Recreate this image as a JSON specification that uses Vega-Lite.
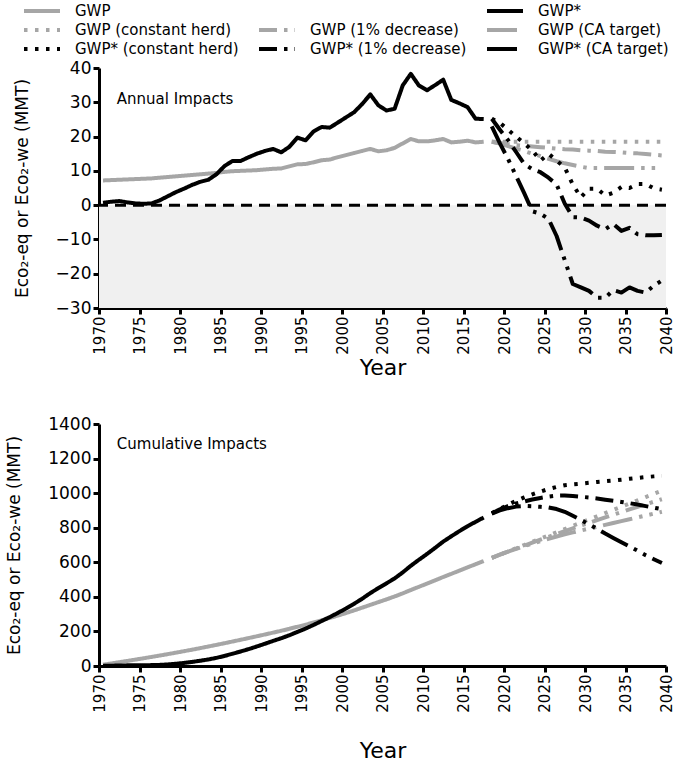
{
  "$schema": "https://vega.github.io/schema/vega-lite/v6.json",
  "padding": {"left": 5, "top": 0, "right": 5, "bottom": 5},
  "config": {
    "font": "DejaVu Sans",
    "view": {"stroke": null},
    "axis": {"domainColor": "black", "domainWidth": 3, "tickColor": "black", "tickWidth": 3, "tickSize": 6, "labelFontSize": 17, "labelColor": "black", "titleFontSize": 17, "titleFontWeight": "normal", "titleColor": "black", "grid": false, "labelFont": "DejaVu Sans", "titleFont": "DejaVu Sans"},
    "axisX": {"labelFontSize": 15, "titleFontSize": 22},
    "legend": {"orient": "none", "legendX": -77, "legendY": -68, "columns": 3, "symbolType": "M-2,0H2", "symbolSize": 324, "symbolOffset": 9, "labelOffset": 22, "symbolStrokeWidth": 4, "labelFontSize": 15, "labelFont": "DejaVu Sans", "labelColor": "black", "rowPadding": 0, "columnPadding": 12, "labelLimit": 400}
  },
  "datasets": {
    "annual_hist": [
      {"year": 1970, "GWP": 7.2, "GWP*": 0.7}, {"year": 1971, "GWP": 7.3, "GWP*": 1.0}, {"year": 1972, "GWP": 7.4, "GWP*": 1.2}, {"year": 1973, "GWP": 7.5, "GWP*": 0.8}, {"year": 1974, "GWP": 7.6, "GWP*": 0.5},
      {"year": 1975, "GWP": 7.7, "GWP*": 0.4}, {"year": 1976, "GWP": 7.8, "GWP*": 0.5}, {"year": 1977, "GWP": 8.0, "GWP*": 1.4}, {"year": 1978, "GWP": 8.2, "GWP*": 2.6}, {"year": 1979, "GWP": 8.4, "GWP*": 3.8},
      {"year": 1980, "GWP": 8.6, "GWP*": 4.8}, {"year": 1981, "GWP": 8.8, "GWP*": 5.9}, {"year": 1982, "GWP": 9.0, "GWP*": 6.8}, {"year": 1983, "GWP": 9.2, "GWP*": 7.4}, {"year": 1984, "GWP": 9.4, "GWP*": 9.0},
      {"year": 1985, "GWP": 9.7, "GWP*": 11.4}, {"year": 1986, "GWP": 9.9, "GWP*": 12.9}, {"year": 1987, "GWP": 10.0, "GWP*": 12.9}, {"year": 1988, "GWP": 10.1, "GWP*": 14.0}, {"year": 1989, "GWP": 10.2, "GWP*": 15.0},
      {"year": 1990, "GWP": 10.4, "GWP*": 15.8}, {"year": 1991, "GWP": 10.6, "GWP*": 16.4}, {"year": 1992, "GWP": 10.7, "GWP*": 15.4}, {"year": 1993, "GWP": 11.3, "GWP*": 17.0}, {"year": 1994, "GWP": 11.9, "GWP*": 19.7},
      {"year": 1995, "GWP": 12.0, "GWP*": 18.9}, {"year": 1996, "GWP": 12.5, "GWP*": 21.5}, {"year": 1997, "GWP": 13.1, "GWP*": 22.8}, {"year": 1998, "GWP": 13.3, "GWP*": 22.6}, {"year": 1999, "GWP": 14.0, "GWP*": 24.1},
      {"year": 2000, "GWP": 14.6, "GWP*": 25.6}, {"year": 2001, "GWP": 15.2, "GWP*": 27.1}, {"year": 2002, "GWP": 15.8, "GWP*": 29.5}, {"year": 2003, "GWP": 16.4, "GWP*": 32.3}, {"year": 2004, "GWP": 15.7, "GWP*": 29.1},
      {"year": 2005, "GWP": 16.0, "GWP*": 27.6}, {"year": 2006, "GWP": 16.7, "GWP*": 28.1}, {"year": 2007, "GWP": 18.0, "GWP*": 34.9}, {"year": 2008, "GWP": 19.3, "GWP*": 38.3}, {"year": 2009, "GWP": 18.6, "GWP*": 34.9},
      {"year": 2010, "GWP": 18.6, "GWP*": 33.5}, {"year": 2011, "GWP": 18.9, "GWP*": 35.0}, {"year": 2012, "GWP": 19.3, "GWP*": 36.6}, {"year": 2013, "GWP": 18.3, "GWP*": 30.7}, {"year": 2014, "GWP": 18.5, "GWP*": 29.7},
      {"year": 2015, "GWP": 18.8, "GWP*": 28.6}, {"year": 2016, "GWP": 18.3, "GWP*": 25.2}, {"year": 2017, "GWP": 18.5, "GWP*": 25.1}
    ],
    "annual_proj": [
      {"year": 2018, "GWP (constant herd)": 18.5, "GWP (1% decrease)": 18.5, "GWP (CA target)": 18.5, "GWP* (constant herd)": 25.2, "GWP* (1% decrease)": 25.2, "GWP* (CA target)": 23.0},
      {"year": 2019, "GWP (constant herd)": 18.5, "GWP (1% decrease)": 18.1, "GWP (CA target)": 18.0, "GWP* (constant herd)": 24.0, "GWP* (1% decrease)": 22.0, "GWP* (CA target)": 18.0},
      {"year": 2020, "GWP (constant herd)": 18.5, "GWP (1% decrease)": 17.8, "GWP (CA target)": 17.2, "GWP* (constant herd)": 22.0, "GWP* (1% decrease)": 19.0, "GWP* (CA target)": 13.5},
      {"year": 2021, "GWP (constant herd)": 18.5, "GWP (1% decrease)": 17.5, "GWP (CA target)": 16.5, "GWP* (constant herd)": 20.0, "GWP* (1% decrease)": 15.5, "GWP* (CA target)": 8.5},
      {"year": 2022, "GWP (constant herd)": 18.5, "GWP (1% decrease)": 17.3, "GWP (CA target)": 15.8, "GWP* (constant herd)": 18.0, "GWP* (1% decrease)": 12.0, "GWP* (CA target)": 3.5},
      {"year": 2023, "GWP (constant herd)": 18.5, "GWP (1% decrease)": 17.1, "GWP (CA target)": 15.0, "GWP* (constant herd)": 16.0, "GWP* (1% decrease)": 10.5, "GWP* (CA target)": -1.8},
      {"year": 2024, "GWP (constant herd)": 18.5, "GWP (1% decrease)": 16.9, "GWP (CA target)": 14.3, "GWP* (constant herd)": 13.0, "GWP* (1% decrease)": 9.6, "GWP* (CA target)": -2.5},
      {"year": 2025, "GWP (constant herd)": 18.5, "GWP (1% decrease)": 16.7, "GWP (CA target)": 13.5, "GWP* (constant herd)": 15.0, "GWP* (1% decrease)": 8.0, "GWP* (CA target)": -4.0},
      {"year": 2026, "GWP (constant herd)": 18.5, "GWP (1% decrease)": 16.5, "GWP (CA target)": 12.8, "GWP* (constant herd)": 13.0, "GWP* (1% decrease)": 6.0, "GWP* (CA target)": -9.0},
      {"year": 2027, "GWP (constant herd)": 18.5, "GWP (1% decrease)": 16.3, "GWP (CA target)": 12.2, "GWP* (constant herd)": 11.0, "GWP* (1% decrease)": 0.5, "GWP* (CA target)": -16.0},
      {"year": 2028, "GWP (constant herd)": 18.5, "GWP (1% decrease)": 16.2, "GWP (CA target)": 11.7, "GWP* (constant herd)": 6.0, "GWP* (1% decrease)": -3.5, "GWP* (CA target)": -23.0},
      {"year": 2029, "GWP (constant herd)": 18.5, "GWP (1% decrease)": 16.0, "GWP (CA target)": 11.2, "GWP* (constant herd)": 2.3, "GWP* (1% decrease)": -3.6, "GWP* (CA target)": -24.0},
      {"year": 2030, "GWP (constant herd)": 18.5, "GWP (1% decrease)": 15.9, "GWP (CA target)": 10.8, "GWP* (constant herd)": 4.8, "GWP* (1% decrease)": -4.5, "GWP* (CA target)": -25.0},
      {"year": 2031, "GWP (constant herd)": 18.5, "GWP (1% decrease)": 15.8, "GWP (CA target)": 10.8, "GWP* (constant herd)": 4.8, "GWP* (1% decrease)": -6.0, "GWP* (CA target)": -27.0},
      {"year": 2032, "GWP (constant herd)": 18.5, "GWP (1% decrease)": 15.6, "GWP (CA target)": 10.8, "GWP* (constant herd)": 2.8, "GWP* (1% decrease)": -7.0, "GWP* (CA target)": -27.0},
      {"year": 2033, "GWP (constant herd)": 18.5, "GWP (1% decrease)": 15.5, "GWP (CA target)": 10.8, "GWP* (constant herd)": 3.6, "GWP* (1% decrease)": -5.5, "GWP* (CA target)": -24.8},
      {"year": 2034, "GWP (constant herd)": 18.5, "GWP (1% decrease)": 15.4, "GWP (CA target)": 10.8, "GWP* (constant herd)": 5.3, "GWP* (1% decrease)": -7.5, "GWP* (CA target)": -25.5},
      {"year": 2035, "GWP (constant herd)": 18.5, "GWP (1% decrease)": 15.2, "GWP (CA target)": 10.8, "GWP* (constant herd)": 5.0, "GWP* (1% decrease)": -6.6, "GWP* (CA target)": -24.0},
      {"year": 2036, "GWP (constant herd)": 18.5, "GWP (1% decrease)": 15.1, "GWP (CA target)": 10.8, "GWP* (constant herd)": 6.2, "GWP* (1% decrease)": -8.5, "GWP* (CA target)": -25.0},
      {"year": 2037, "GWP (constant herd)": 18.5, "GWP (1% decrease)": 14.9, "GWP (CA target)": 10.8, "GWP* (constant herd)": 6.2, "GWP* (1% decrease)": -8.8, "GWP* (CA target)": -25.5},
      {"year": 2038, "GWP (constant herd)": 18.5, "GWP (1% decrease)": 14.7, "GWP (CA target)": 10.8, "GWP* (constant herd)": 4.9, "GWP* (1% decrease)": -8.8, "GWP* (CA target)": -23.5},
      {"year": 2039, "GWP (constant herd)": 18.5, "GWP (1% decrease)": 14.5, "GWP (CA target)": 10.8, "GWP* (constant herd)": 4.5, "GWP* (1% decrease)": -8.7, "GWP* (CA target)": -22.0}
    ],
    "cum_hist": [
      {"year": 1970, "GWP": 7.2, "GWP*": 0.7}, {"year": 1971, "GWP": 14.5, "GWP*": 1.7}, {"year": 1972, "GWP": 21.9, "GWP*": 2.9}, {"year": 1973, "GWP": 29.4, "GWP*": 3.7}, {"year": 1974, "GWP": 37.0, "GWP*": 4.2},
      {"year": 1975, "GWP": 44.7, "GWP*": 4.6}, {"year": 1976, "GWP": 52.5, "GWP*": 5.1}, {"year": 1977, "GWP": 60.5, "GWP*": 6.5}, {"year": 1978, "GWP": 68.7, "GWP*": 9.1}, {"year": 1979, "GWP": 77.1, "GWP*": 12.9},
      {"year": 1980, "GWP": 85.7, "GWP*": 17.7}, {"year": 1981, "GWP": 94.5, "GWP*": 23.6}, {"year": 1982, "GWP": 103.5, "GWP*": 30.4}, {"year": 1983, "GWP": 112.7, "GWP*": 37.8}, {"year": 1984, "GWP": 122.1, "GWP*": 46.8},
      {"year": 1985, "GWP": 131.8, "GWP*": 58.2}, {"year": 1986, "GWP": 141.7, "GWP*": 71.1}, {"year": 1987, "GWP": 151.7, "GWP*": 84.0}, {"year": 1988, "GWP": 161.8, "GWP*": 98.0}, {"year": 1989, "GWP": 172.0, "GWP*": 113.0},
      {"year": 1990, "GWP": 182.4, "GWP*": 128.8}, {"year": 1991, "GWP": 193.0, "GWP*": 145.2}, {"year": 1992, "GWP": 203.7, "GWP*": 160.6}, {"year": 1993, "GWP": 215.0, "GWP*": 177.6}, {"year": 1994, "GWP": 226.9, "GWP*": 197.3},
      {"year": 1995, "GWP": 238.9, "GWP*": 216.2}, {"year": 1996, "GWP": 251.4, "GWP*": 237.7}, {"year": 1997, "GWP": 264.5, "GWP*": 260.5}, {"year": 1998, "GWP": 277.8, "GWP*": 283.1}, {"year": 1999, "GWP": 291.8, "GWP*": 307.2},
      {"year": 2000, "GWP": 306.4, "GWP*": 332.8}, {"year": 2001, "GWP": 321.6, "GWP*": 359.9}, {"year": 2002, "GWP": 337.4, "GWP*": 389.4}, {"year": 2003, "GWP": 353.8, "GWP*": 421.7}, {"year": 2004, "GWP": 369.5, "GWP*": 450.8},
      {"year": 2005, "GWP": 385.5, "GWP*": 478.4}, {"year": 2006, "GWP": 402.2, "GWP*": 506.5}, {"year": 2007, "GWP": 420.2, "GWP*": 541.4}, {"year": 2008, "GWP": 439.5, "GWP*": 579.7}, {"year": 2009, "GWP": 458.1, "GWP*": 614.6},
      {"year": 2010, "GWP": 476.7, "GWP*": 648.1}, {"year": 2011, "GWP": 495.6, "GWP*": 683.1}, {"year": 2012, "GWP": 514.9, "GWP*": 719.7}, {"year": 2013, "GWP": 533.2, "GWP*": 750.4}, {"year": 2014, "GWP": 551.7, "GWP*": 780.1},
      {"year": 2015, "GWP": 570.5, "GWP*": 808.7}, {"year": 2016, "GWP": 588.8, "GWP*": 833.9}, {"year": 2017, "GWP": 607.3, "GWP*": 859.0}
    ],
    "cum_proj": [
      {"year": 2018, "GWP (constant herd)": 625.8, "GWP (1% decrease)": 625.8, "GWP (CA target)": 625.8, "GWP* (constant herd)": 884, "GWP* (1% decrease)": 884, "GWP* (CA target)": 882},
      {"year": 2019, "GWP (constant herd)": 644.3, "GWP (1% decrease)": 643.9, "GWP (CA target)": 643.8, "GWP* (constant herd)": 909, "GWP* (1% decrease)": 906, "GWP* (CA target)": 900},
      {"year": 2020, "GWP (constant herd)": 662.8, "GWP (1% decrease)": 661.7, "GWP (CA target)": 661.0, "GWP* (constant herd)": 933, "GWP* (1% decrease)": 925, "GWP* (CA target)": 913},
      {"year": 2021, "GWP (constant herd)": 681.3, "GWP (1% decrease)": 679.2, "GWP (CA target)": 677.5, "GWP* (constant herd)": 955, "GWP* (1% decrease)": 940, "GWP* (CA target)": 922},
      {"year": 2022, "GWP (constant herd)": 699.8, "GWP (1% decrease)": 696.5, "GWP (CA target)": 693.3, "GWP* (constant herd)": 975, "GWP* (1% decrease)": 952, "GWP* (CA target)": 926},
      {"year": 2023, "GWP (constant herd)": 718.3, "GWP (1% decrease)": 713.6, "GWP (CA target)": 708.3, "GWP* (constant herd)": 993, "GWP* (1% decrease)": 963, "GWP* (CA target)": 924},
      {"year": 2024, "GWP (constant herd)": 736.8, "GWP (1% decrease)": 730.5, "GWP (CA target)": 722.6, "GWP* (constant herd)": 1009, "GWP* (1% decrease)": 972, "GWP* (CA target)": 921},
      {"year": 2025, "GWP (constant herd)": 755.3, "GWP (1% decrease)": 747.2, "GWP (CA target)": 736.1, "GWP* (constant herd)": 1024, "GWP* (1% decrease)": 980, "GWP* (CA target)": 917},
      {"year": 2026, "GWP (constant herd)": 773.8, "GWP (1% decrease)": 763.7, "GWP (CA target)": 748.9, "GWP* (constant herd)": 1036, "GWP* (1% decrease)": 986, "GWP* (CA target)": 908},
      {"year": 2027, "GWP (constant herd)": 792.3, "GWP (1% decrease)": 780.0, "GWP (CA target)": 761.1, "GWP* (constant herd)": 1046, "GWP* (1% decrease)": 987, "GWP* (CA target)": 892},
      {"year": 2028, "GWP (constant herd)": 810.8, "GWP (1% decrease)": 796.2, "GWP (CA target)": 772.8, "GWP* (constant herd)": 1051, "GWP* (1% decrease)": 983, "GWP* (CA target)": 869},
      {"year": 2029, "GWP (constant herd)": 829.3, "GWP (1% decrease)": 812.2, "GWP (CA target)": 784.0, "GWP* (constant herd)": 1055, "GWP* (1% decrease)": 979, "GWP* (CA target)": 845},
      {"year": 2030, "GWP (constant herd)": 847.8, "GWP (1% decrease)": 828.1, "GWP (CA target)": 794.8, "GWP* (constant herd)": 1060, "GWP* (1% decrease)": 975, "GWP* (CA target)": 820},
      {"year": 2031, "GWP (constant herd)": 866.3, "GWP (1% decrease)": 843.9, "GWP (CA target)": 805.6, "GWP* (constant herd)": 1065, "GWP* (1% decrease)": 969, "GWP* (CA target)": 793},
      {"year": 2032, "GWP (constant herd)": 884.8, "GWP (1% decrease)": 859.5, "GWP (CA target)": 816.4, "GWP* (constant herd)": 1069, "GWP* (1% decrease)": 962, "GWP* (CA target)": 766},
      {"year": 2033, "GWP (constant herd)": 903.3, "GWP (1% decrease)": 875.0, "GWP (CA target)": 827.2, "GWP* (constant herd)": 1073, "GWP* (1% decrease)": 956, "GWP* (CA target)": 741},
      {"year": 2034, "GWP (constant herd)": 921.8, "GWP (1% decrease)": 890.4, "GWP (CA target)": 838.0, "GWP* (constant herd)": 1078, "GWP* (1% decrease)": 949, "GWP* (CA target)": 716},
      {"year": 2035, "GWP (constant herd)": 940.3, "GWP (1% decrease)": 905.6, "GWP (CA target)": 848.8, "GWP* (constant herd)": 1083, "GWP* (1% decrease)": 942, "GWP* (CA target)": 692},
      {"year": 2036, "GWP (constant herd)": 958.8, "GWP (1% decrease)": 920.7, "GWP (CA target)": 859.6, "GWP* (constant herd)": 1088, "GWP* (1% decrease)": 934, "GWP* (CA target)": 667},
      {"year": 2037, "GWP (constant herd)": 977.3, "GWP (1% decrease)": 935.6, "GWP (CA target)": 870.4, "GWP* (constant herd)": 1093, "GWP* (1% decrease)": 925, "GWP* (CA target)": 641},
      {"year": 2038, "GWP (constant herd)": 995.8, "GWP (1% decrease)": 950.3, "GWP (CA target)": 881.2, "GWP* (constant herd)": 1097, "GWP* (1% decrease)": 916, "GWP* (CA target)": 618},
      {"year": 2039, "GWP (constant herd)": 1014.3, "GWP (1% decrease)": 964.8, "GWP (CA target)": 892.0, "GWP* (constant herd)": 1101, "GWP* (1% decrease)": 907, "GWP* (CA target)": 596}
    ]
  },
  "spacing": 36,
  "vconcat": [
    {
      "width": 567,
      "height": 240,
      "layer": [
        {
          "data": {"values": [{}]},
          "mark": {"type": "rect", "color": "#f0f0f0"},
          "encoding": {
            "y": {"datum": 0, "type": "quantitative", "scale": {"domain": [-30, 40], "nice": false}, "title": "Eco₂-eq or Eco₂-we  (MMT)", "axis": {"values": [-30, -20, -10, 0, 10, 20, 30, 40], "titlePadding": 24}},
            "y2": {"datum": -30}
          }
        },
        {
          "data": {"values": [{}]},
          "mark": {"type": "rule", "color": "black", "strokeWidth": 3, "strokeDash": [11, 7]},
          "encoding": {
            "y": {"datum": 0, "type": "quantitative", "scale": {"domain": [-30, 40], "nice": false}, "title": "Eco₂-eq or Eco₂-we  (MMT)", "axis": {"values": [-30, -20, -10, 0, 10, 20, 30, 40], "titlePadding": 24}}
          }
        },
        {
          "data": {"values": [{"label": "Annual Impacts"}]},
          "mark": {"type": "text", "align": "left", "baseline": "middle", "fontSize": 15, "color": "black"},
          "encoding": {
            "x": {"datum": 1972.2, "type": "quantitative", "scale": {"domain": [1970, 2040], "nice": false, "zero": false}, "title": "Year", "axis": {"values": [1970, 1975, 1980, 1985, 1990, 1995, 2000, 2005, 2010, 2015, 2020, 2025, 2030, 2035, 2040], "format": "d", "labelAngle": 270, "titlePadding": 3}},
            "y": {"datum": 31, "type": "quantitative", "scale": {"domain": [-30, 40], "nice": false}, "title": "Eco₂-eq or Eco₂-we  (MMT)", "axis": {"values": [-30, -20, -10, 0, 10, 20, 30, 40], "titlePadding": 24}},
            "text": {"field": "label"}
          }
        },
        {
          "data": {"name": "annual_hist"},
          "transform": [{"fold": ["GWP", "GWP*"], "as": ["series", "value"]}],
          "mark": {"type": "line", "strokeWidth": 4, "strokeJoin": "round", "xOffset": 4},
          "encoding": {
            "x": {"field": "year", "type": "quantitative", "scale": {"domain": [1970, 2040], "nice": false, "zero": false}, "title": "Year", "axis": {"values": [1970, 1975, 1980, 1985, 1990, 1995, 2000, 2005, 2010, 2015, 2020, 2025, 2030, 2035, 2040], "format": "d", "labelAngle": 270, "titlePadding": 3}},
            "y": {"field": "value", "type": "quantitative", "scale": {"domain": [-30, 40], "nice": false}, "title": "Eco₂-eq or Eco₂-we  (MMT)", "axis": {"values": [-30, -20, -10, 0, 10, 20, 30, 40], "titlePadding": 24}},
            "color": {"field": "series", "type": "nominal", "title": null, "scale": {"domain": ["GWP", "GWP (constant herd)", "GWP* (constant herd)", " ", "GWP (1% decrease)", "GWP* (1% decrease)", "GWP*", "GWP (CA target)", "GWP* (CA target)"], "range": ["#a6a6a6", "#a6a6a6", "#000000", "transparent", "#a6a6a6", "#000000", "#000000", "#a6a6a6", "#000000"]}},
            "strokeDash": {"field": "series", "type": "nominal", "title": null, "scale": {"domain": ["GWP", "GWP (constant herd)", "GWP* (constant herd)", " ", "GWP (1% decrease)", "GWP* (1% decrease)", "GWP*", "GWP (CA target)", "GWP* (CA target)"], "range": [[1, 0], [3.5, 7.5], [3.5, 7.5], [1, 0], [18, 7, 3.5, 7], [18, 7, 3.5, 7], [1, 0], [30, 7, 3.5, 7, 3.5, 7], [30, 7, 3.5, 7, 3.5, 7]]}}
          }
        },
        {
          "data": {"name": "annual_proj"},
          "transform": [{"fold": ["GWP (constant herd)", "GWP (1% decrease)", "GWP (CA target)", "GWP* (constant herd)", "GWP* (1% decrease)", "GWP* (CA target)"], "as": ["series", "value"]}],
          "mark": {"type": "line", "strokeWidth": 4, "strokeJoin": "round", "xOffset": 4},
          "encoding": {
            "x": {"field": "year", "type": "quantitative", "scale": {"domain": [1970, 2040], "nice": false, "zero": false}, "title": "Year", "axis": {"values": [1970, 1975, 1980, 1985, 1990, 1995, 2000, 2005, 2010, 2015, 2020, 2025, 2030, 2035, 2040], "format": "d", "labelAngle": 270, "titlePadding": 3}},
            "y": {"field": "value", "type": "quantitative", "scale": {"domain": [-30, 40], "nice": false}, "title": "Eco₂-eq or Eco₂-we  (MMT)", "axis": {"values": [-30, -20, -10, 0, 10, 20, 30, 40], "titlePadding": 24}},
            "color": {"field": "series", "type": "nominal", "title": null, "scale": {"domain": ["GWP", "GWP (constant herd)", "GWP* (constant herd)", " ", "GWP (1% decrease)", "GWP* (1% decrease)", "GWP*", "GWP (CA target)", "GWP* (CA target)"], "range": ["#a6a6a6", "#a6a6a6", "#000000", "transparent", "#a6a6a6", "#000000", "#000000", "#a6a6a6", "#000000"]}},
            "strokeDash": {"field": "series", "type": "nominal", "title": null, "scale": {"domain": ["GWP", "GWP (constant herd)", "GWP* (constant herd)", " ", "GWP (1% decrease)", "GWP* (1% decrease)", "GWP*", "GWP (CA target)", "GWP* (CA target)"], "range": [[1, 0], [3.5, 7.5], [3.5, 7.5], [1, 0], [18, 7, 3.5, 7], [18, 7, 3.5, 7], [1, 0], [30, 7, 3.5, 7, 3.5, 7], [30, 7, 3.5, 7, 3.5, 7]]}}
          }
        }
      ]
    },
    {
      "width": 567,
      "height": 242,
      "layer": [
        {
          "data": {"values": [{"label": "Cumulative Impacts"}]},
          "mark": {"type": "text", "align": "left", "baseline": "middle", "fontSize": 15, "color": "black"},
          "encoding": {
            "x": {"datum": 1972.2, "type": "quantitative", "scale": {"domain": [1970, 2040], "nice": false, "zero": false}, "title": "Year", "axis": {"values": [1970, 1975, 1980, 1985, 1990, 1995, 2000, 2005, 2010, 2015, 2020, 2025, 2030, 2035, 2040], "format": "d", "labelAngle": 270, "titlePadding": 28}},
            "y": {"datum": 1285, "type": "quantitative", "scale": {"domain": [0, 1400], "nice": false}, "title": "Eco₂-eq or Eco₂-we  (MMT)", "axis": {"values": [0, 200, 400, 600, 800, 1000, 1200, 1400], "format": "d", "titlePadding": 24}},
            "text": {"field": "label"}
          }
        },
        {
          "data": {"name": "cum_hist"},
          "transform": [{"fold": ["GWP", "GWP*"], "as": ["series", "value"]}],
          "mark": {"type": "line", "strokeWidth": 4, "strokeJoin": "round", "xOffset": 4},
          "encoding": {
            "x": {"field": "year", "type": "quantitative", "scale": {"domain": [1970, 2040], "nice": false, "zero": false}, "title": "Year", "axis": {"values": [1970, 1975, 1980, 1985, 1990, 1995, 2000, 2005, 2010, 2015, 2020, 2025, 2030, 2035, 2040], "format": "d", "labelAngle": 270, "titlePadding": 28}},
            "y": {"field": "value", "type": "quantitative", "scale": {"domain": [0, 1400], "nice": false}, "title": "Eco₂-eq or Eco₂-we  (MMT)", "axis": {"values": [0, 200, 400, 600, 800, 1000, 1200, 1400], "format": "d", "titlePadding": 24}},
            "color": {"field": "series", "type": "nominal", "title": null, "scale": {"domain": ["GWP", "GWP (constant herd)", "GWP* (constant herd)", " ", "GWP (1% decrease)", "GWP* (1% decrease)", "GWP*", "GWP (CA target)", "GWP* (CA target)"], "range": ["#a6a6a6", "#a6a6a6", "#000000", "transparent", "#a6a6a6", "#000000", "#000000", "#a6a6a6", "#000000"]}},
            "strokeDash": {"field": "series", "type": "nominal", "title": null, "scale": {"domain": ["GWP", "GWP (constant herd)", "GWP* (constant herd)", " ", "GWP (1% decrease)", "GWP* (1% decrease)", "GWP*", "GWP (CA target)", "GWP* (CA target)"], "range": [[1, 0], [3.5, 7.5], [3.5, 7.5], [1, 0], [18, 7, 3.5, 7], [18, 7, 3.5, 7], [1, 0], [30, 7, 3.5, 7, 3.5, 7], [30, 7, 3.5, 7, 3.5, 7]]}}
          }
        },
        {
          "data": {"name": "cum_proj"},
          "transform": [{"fold": ["GWP (constant herd)", "GWP (1% decrease)", "GWP (CA target)", "GWP* (constant herd)", "GWP* (1% decrease)", "GWP* (CA target)"], "as": ["series", "value"]}],
          "mark": {"type": "line", "strokeWidth": 4, "strokeJoin": "round", "xOffset": 4},
          "encoding": {
            "x": {"field": "year", "type": "quantitative", "scale": {"domain": [1970, 2040], "nice": false, "zero": false}, "title": "Year", "axis": {"values": [1970, 1975, 1980, 1985, 1990, 1995, 2000, 2005, 2010, 2015, 2020, 2025, 2030, 2035, 2040], "format": "d", "labelAngle": 270, "titlePadding": 28}},
            "y": {"field": "value", "type": "quantitative", "scale": {"domain": [0, 1400], "nice": false}, "title": "Eco₂-eq or Eco₂-we  (MMT)", "axis": {"values": [0, 200, 400, 600, 800, 1000, 1200, 1400], "format": "d", "titlePadding": 24}},
            "color": {"field": "series", "type": "nominal", "title": null, "scale": {"domain": ["GWP", "GWP (constant herd)", "GWP* (constant herd)", " ", "GWP (1% decrease)", "GWP* (1% decrease)", "GWP*", "GWP (CA target)", "GWP* (CA target)"], "range": ["#a6a6a6", "#a6a6a6", "#000000", "transparent", "#a6a6a6", "#000000", "#000000", "#a6a6a6", "#000000"]}},
            "strokeDash": {"field": "series", "type": "nominal", "title": null, "scale": {"domain": ["GWP", "GWP (constant herd)", "GWP* (constant herd)", " ", "GWP (1% decrease)", "GWP* (1% decrease)", "GWP*", "GWP (CA target)", "GWP* (CA target)"], "range": [[1, 0], [3.5, 7.5], [3.5, 7.5], [1, 0], [18, 7, 3.5, 7], [18, 7, 3.5, 7], [1, 0], [30, 7, 3.5, 7, 3.5, 7], [30, 7, 3.5, 7, 3.5, 7]]}}
          }
        }
      ]
    }
  ]
}
